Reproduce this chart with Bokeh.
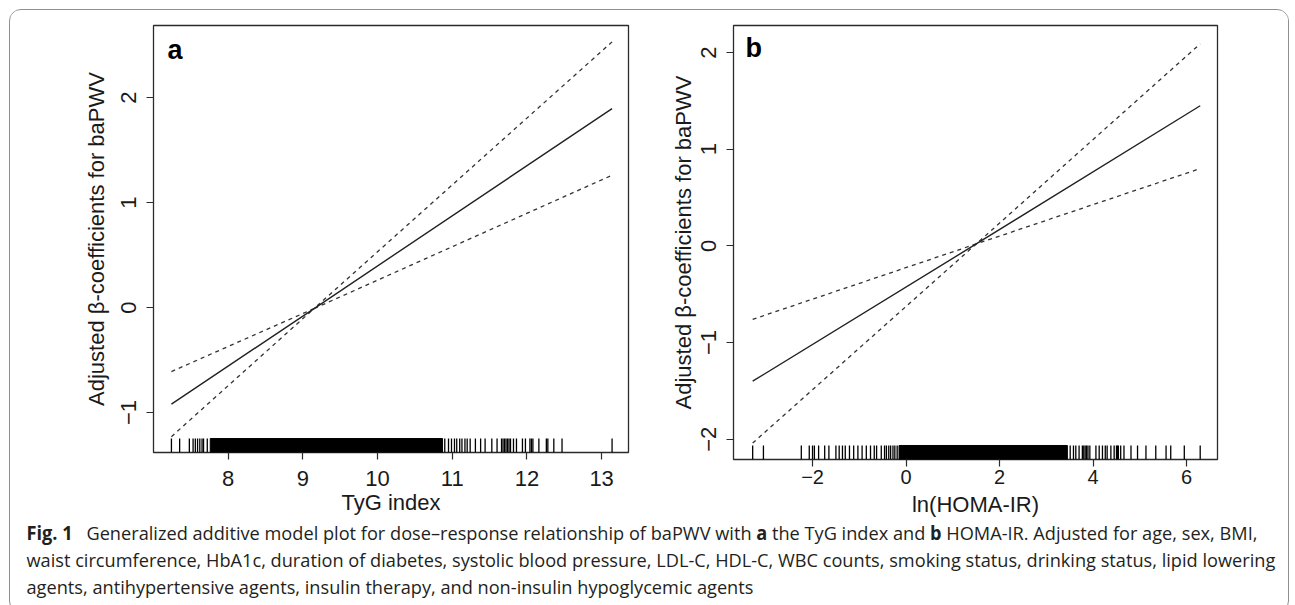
from bokeh.plotting import figure
from bokeh.models import Range1d, FixedTicker, Label, Div
from bokeh.layouts import row, column
from bokeh.embed import file_html
from bokeh.resources import INLINE

# ---------------- data ----------------
# Panel a: TyG index
tyg_x = [7.24, 9.15, 13.14]
tyg_fit = [-0.92, -0.01, 1.895]
tyg_upper = [-0.61, -0.01, 2.53]
tyg_lower = [-1.23, -0.01, 1.26]
tyg_rug = [7.24, 7.35, 7.48, 7.53, 7.56, 7.59, 7.62, 7.65, 7.67, 7.72,
           10.90, 10.95, 10.99, 11.03, 11.06, 11.10, 11.13, 11.17, 11.20, 11.24,
           11.31, 11.38, 11.44, 11.53, 11.60, 11.66, 11.68, 11.70, 11.72, 11.74,
           11.76, 11.78, 11.82, 11.86, 11.94, 11.98, 12.04, 12.06, 12.08, 12.16,
           12.26, 12.28, 12.36, 12.47, 13.14]
tyg_rug_dense = (7.76, 10.87)
tyg_xticks = [8, 9, 10, 11, 12, 13]
tyg_yticks = [-1, 0, 1, 2]

# Panel b: ln(HOMA-IR)
homa_x = [-3.28, 1.50, 6.29]
homa_fit = [-1.40, 0.02, 1.45]
homa_upper = [-0.76, 0.02, 2.09]
homa_lower = [-2.04, 0.02, 0.80]
homa_rug = [-3.28, -3.05, -2.24, -2.07, -2.00, -1.96, -1.87, -1.74, -1.65, -1.50,
            -1.43, -1.36, -1.30, -1.21, -1.12, -1.03, -0.94, -0.85, -0.76, -0.68,
            -0.63, -0.53, -0.46, -0.42, -0.37, -0.33, -0.28, -0.24, -0.19,
            3.51, 3.58, 3.63, 3.70, 3.77, 3.80, 3.83, 3.86, 3.89, 3.93,
            4.06, 4.13, 4.20, 4.26, 4.30, 4.38, 4.45, 4.50, 4.52, 4.54,
            4.59, 4.66, 4.81, 4.95, 5.13, 5.34, 5.56, 5.66, 5.95, 6.29]
homa_rug_dense = (-0.15, 3.45)
homa_xticks = [-2, 0, 2, 4, 6]
homa_yticks = [-2, -1, 0, 1, 2]

YLABEL = "Adjusted \u03b2-coefficients for baPWV"
AXFONT = "Liberation Sans"
INK = "#2b2b2b"
TOP = 15


def minus(v):
    return str(v).replace("-", "\u2212")


def panel(xs, fit, up, lo, rug, dense, xticks, yticks, xr, yr, xlabel, letter,
          fw, fh, mbl, mbr, mbb, xlab_size, xstand, xlstand, ystand, ylstand,
          rug_len, letter_x, letter_y):
    p = figure(width=mbl + fw + mbr, height=TOP + fh + mbb,
               frame_width=fw, frame_height=fh,
               x_range=Range1d(*xr), y_range=Range1d(*yr),
               output_backend="svg", toolbar_location=None,
               min_border_left=mbl, min_border_right=mbr,
               min_border_top=TOP, min_border_bottom=mbb)
    p.grid.visible = False
    p.outline_line_color = INK
    p.outline_line_width = 1.3
    p.background_fill_color = "white"
    p.border_fill_color = "white"

    ylo = yr[0]
    p.segment(x0=rug, x1=rug, y0=[ylo] * len(rug), y1=[ylo + rug_len] * len(rug),
              line_color="black", line_width=1.3)
    p.quad(left=[dense[0]], right=[dense[1]], bottom=[ylo], top=[ylo + rug_len],
           fill_color="black", line_color="black", line_width=1)

    p.line(xs, up, line_color="#333333", line_width=1.3, line_dash="4 4")
    p.line(xs, lo, line_color="#333333", line_width=1.3, line_dash="4 4")
    p.line(xs, fit, line_color="#222222", line_width=1.4)

    for ax in (p.xaxis[0], p.yaxis[0]):
        ax.axis_line_color = None
        ax.major_tick_line_color = INK
        ax.major_tick_line_width = 1.2
        ax.major_tick_out = 7
        ax.major_tick_in = 0
        ax.minor_tick_line_color = None
        ax.major_label_text_font = AXFONT
        ax.major_label_text_color = "#1a1a1a"
        ax.axis_label_text_font = AXFONT
        ax.axis_label_text_font_style = "normal"
        ax.axis_label_text_font_size = "22px"
        ax.axis_label_text_color = "#1a1a1a"

    p.xaxis.ticker = FixedTicker(ticks=xticks)
    p.xaxis.major_label_overrides = {t: minus(t) for t in xticks}
    p.xaxis.major_label_text_font_size = xlab_size
    p.xaxis.major_label_standoff = xstand
    p.xaxis.axis_label = xlabel
    p.xaxis.axis_label_standoff = xlstand

    p.yaxis.ticker = FixedTicker(ticks=yticks)
    p.yaxis.major_label_overrides = {t: minus(t) for t in yticks}
    p.yaxis.major_label_text_font_size = "22px"
    p.yaxis.major_label_orientation = "vertical"
    p.yaxis.major_label_standoff = ystand
    p.yaxis.axis_label = YLABEL
    p.yaxis.axis_label_standoff = ylstand

    p.add_layout(Label(x=letter_x, y=letter_y, x_units="screen", y_units="screen",
                       text=letter, text_font=AXFONT, text_font_style="bold",
                       text_font_size="27px", text_color="black",
                       text_baseline="alphabetic"))
    return p


pa = panel(tyg_x, tyg_fit, tyg_upper, tyg_lower, tyg_rug, tyg_rug_dense,
           tyg_xticks, tyg_yticks, (7.0, 13.36), (-1.381, 2.686), "TyG index", "a",
           fw=477, fh=427, mbl=143, mbr=30, mbb=66, xlab_size="22px",
           xstand=11, xlstand=1, ystand=10, ylstand=10, rug_len=0.133,
           letter_x=14, letter_y=427 - 24)

pb = panel(homa_x, homa_fit, homa_upper, homa_lower, homa_rug, homa_rug_dense,
           homa_xticks, homa_yticks, (-3.69, 6.66), (-2.21, 2.28), "ln(HOMA-IR)", "b",
           fw=485, fh=434, mbl=74, mbr=71, mbb=59, xlab_size="20px",
           xstand=3, xlstand=5, ystand=10, ylstand=3, rug_len=0.145,
           letter_x=12, letter_y=434 - 22)

caption_html = (
    "<b>Fig. 1</b>&ensp; Generalized additive model plot for dose\u2013response relationship of baPWV "
    "with <b>a</b> the TyG index and <b>b</b> HOMA-IR. Adjusted for age, sex, BMI,<br>"
    "waist circumference, HbA1c, duration of diabetes, systolic blood pressure, LDL-C, HDL-C, "
    "WBC counts, smoking status, drinking status, lipid lowering<br>"
    "agents, antihypertensive agents, insulin therapy, and non-insulin hypoglycemic agents"
)
caption = Div(text=caption_html, width=1280, height=83,
              styles={"font-family": "'Open Sans', sans-serif", "font-size": "19px",
                      "line-height": "27px", "color": "#231f20",
                      "white-space": "nowrap", "padding-left": "12px",
                      "padding-top": "0px",
                      "transform": "translateY(-4px) scaleX(0.957)",
                      "transform-origin": "left top"})

layout = column(row(pa, pb), caption, width=1280,
                styles={"border": "1px solid #8f8f8f", "border-radius": "12px",
                        "overflow": "hidden", "background": "white",
                        "margin-left": "9px", "margin-top": "9px"})

open("out.html", "w").write(file_html(layout, INLINE))
